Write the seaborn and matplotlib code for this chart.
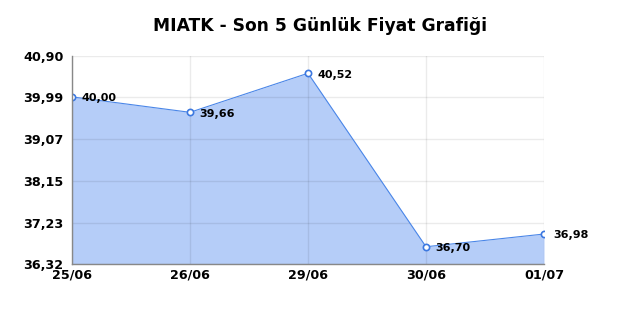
import matplotlib
matplotlib.use("Agg")
import matplotlib.pyplot as plt
import seaborn as sns
import pandas as pd

dates = ["25/06", "26/06", "29/06", "30/06", "01/07"]
prices = [40.00, 39.66, 40.52, 36.70, 36.98]
yticks = [36.32, 37.23, 38.15, 39.07, 39.99, 40.90]

sns.set_style("white")
plt.rcParams['font.family'] = ['DejaVu Sans']

df = pd.DataFrame({"x": range(len(dates)), "price": prices})

fig = plt.figure(figsize=(6.4, 3.2), dpi=100)
ax = fig.add_axes([72/640, 1-264/320, (544-72)/640, (264-56)/320])

ax.fill_between(df["x"], df["price"], yticks[0], color="#b5cdf8", linewidth=0, zorder=1)
ax.grid(True, color="#000000", alpha=0.08, linewidth=1, zorder=2)
ax.set_axisbelow(False)
sns.lineplot(data=df, x="x", y="price", ax=ax, color="#4a86e8", linewidth=0.8,
             marker="o", markersize=4.5, markerfacecolor="white",
             markeredgecolor="#3c78e0", markeredgewidth=1.2, zorder=3)

for xi, p in zip(df["x"], prices):
    ax.annotate(f"{p:.2f}".replace(".", ","), (xi, p), xytext=(7, -1),
                textcoords="offset points", fontsize=8, fontweight="bold",
                va="center", ha="left", color="#000000", zorder=4,
                annotation_clip=False)

ax.set_xlim(0, len(dates)-1)
ax.set_ylim(yticks[0], yticks[-1])
ax.set_xticks(range(len(dates)))
ax.set_xticklabels(dates)
ax.set_yticks(yticks)
ax.set_yticklabels([f"{t:.2f}".replace(".", ",") for t in yticks])
for lab in ax.get_xticklabels() + ax.get_yticklabels():
    lab.set_fontweight("bold")
    lab.set_fontsize(9.2)
    lab.set_color("#000000")
ax.tick_params(axis="y", length=0, pad=6)
ax.tick_params(axis="x", length=0, pad=3)
ax.set_xlabel("")
ax.set_ylabel("")
for s in ["top", "right"]:
    ax.spines[s].set_visible(False)
for s in ["left", "bottom"]:
    ax.spines[s].set_color("#888888")
    ax.spines[s].set_linewidth(1)
    ax.spines[s].set_zorder(5)

fig.suptitle("MIATK - Son 5 Günlük Fiyat Grafiği", fontsize=12.3, fontweight="bold",
             y=1-26/320, va="center", color="#000000")
fig.savefig("out.png", dpi=100, facecolor="white")
